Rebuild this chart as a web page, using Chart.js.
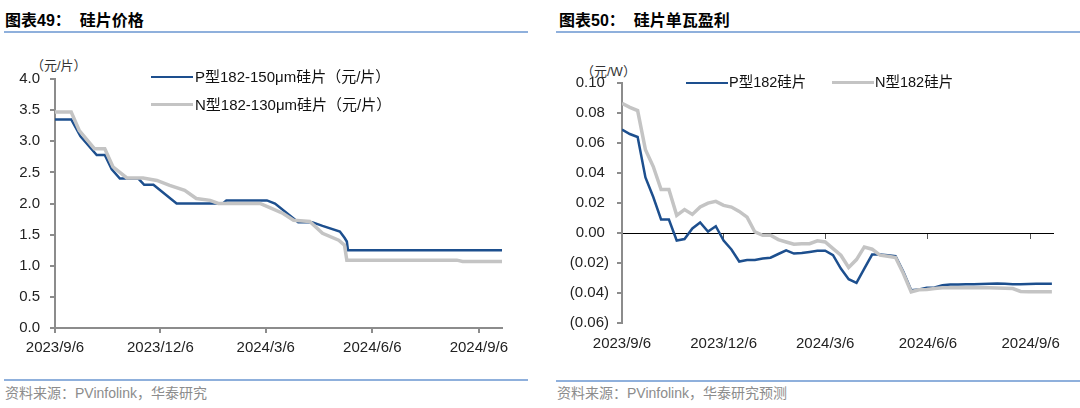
<!DOCTYPE html>
<html lang="zh">
<head>
  <meta charset="UTF-8" />
  <title>硅片价格 / 硅片单瓦盈利</title>
  <script src="https://cdn.jsdelivr.net/npm/chart.js"></script>
  <style>
    body { margin: 0; width: 1080px; height: 408px; position: relative; background: #fff;
           font-family: "Liberation Sans", "Noto Sans CJK SC", sans-serif; color: #000; overflow: hidden; }
    .abs { position: absolute; white-space: pre; line-height: 1; }
    .title { font-size: 16px; font-weight: bold; }
    .rule { position: absolute; height: 0; border-top: 2px solid #8fb0dc; }
    .unit { font-size: 13px; color: #333; }
    .src { font-size: 14px; color: #8c8c8c; }
    .leg { font-size: 15px; color: #111; }
    .swatch { position: absolute; height: 0; width: 42px; }
    .box { position: absolute; }
  </style>
</head>
<body>
  <!-- left: 硅片价格 -->
  <div class="abs title" style="left:5px; top:13px;">图表49：  硅片价格</div>
  <div class="rule" style="left:4px; width:524px; top:31px;"></div>
  <div class="abs unit" style="left:31px; top:59px;">（元/片）</div>
  <div class="box" style="left:0; top:60px; width:530px; height:310px;"><canvas id="priceChart"></canvas></div>
  <div class="swatch" style="left:151px; top:76px; border-top:2.5px solid #1d4f8e;"></div>
  <div class="abs leg" style="left:195px; top:69px;">P型182-150μm硅片（元/片）</div>
  <div class="swatch" style="left:151px; top:103px; border-top:3.5px solid #c4c4c4;"></div>
  <div class="abs leg" style="left:195px; top:97px;">N型182-130μm硅片（元/片）</div>
  <div class="rule" style="left:4px; width:524px; top:379px;"></div>
  <div class="abs src" style="left:5px; top:386px;">资料来源：PVinfolink，华泰研究</div>

  <!-- right: 硅片单瓦盈利 -->
  <div class="abs title" style="left:559px; top:13px;">图表50：  硅片单瓦盈利</div>
  <div class="rule" style="left:556px; width:524px; top:31px;"></div>
  <div class="abs unit" style="left:581px; top:65px;">（元/W）</div>
  <div class="box" style="left:540px; top:60px; width:540px; height:310px;"><canvas id="profitChart"></canvas></div>
  <div class="swatch" style="left:686px; top:82px; border-top:2.5px solid #1d4f8e;"></div>
  <div class="abs leg" style="left:729px; top:75px; font-size:14.5px;">P型182硅片</div>
  <div class="swatch" style="left:832px; top:81px; border-top:3.5px solid #c4c4c4;"></div>
  <div class="abs leg" style="left:875px; top:75px; font-size:14.5px;">N型182硅片</div>
  <div class="rule" style="left:556px; width:524px; top:380px;"></div>
  <div class="abs src" style="left:557px; top:386px;">资料来源：PVinfolink，华泰研究预测</div>

  <script>
    // x positions are days counted from 2023/9/6
    const tickDays = [0, 91, 182, 274, 366];
    const tickLabels = ['2023/9/6', '2023/12/6', '2024/3/6', '2024/6/6', '2024/9/6'];
    const lastDay = 386;

    // 硅片价格 (元/片)
    const pPriceDays = [0, 14, 22, 36, 43, 49, 56, 72, 77, 85, 105, 145, 148, 183, 190, 206, 210, 222, 231, 246, 250, 252, 253, 386];
    const pPrice = [3.35, 3.35, 3.08, 2.78, 2.78, 2.55, 2.40, 2.40, 2.30, 2.30, 2.00, 2.00, 2.05, 2.05, 2.00, 1.76, 1.70, 1.70, 1.64, 1.55, 1.45, 1.39, 1.25, 1.25];
    const nPriceDays = [0, 14, 21, 34, 43, 50, 62, 76, 88, 99, 112, 122, 134, 141, 177, 186, 197, 206, 220, 231, 245, 250, 252, 347, 352, 386];
    const nPrice = [3.47, 3.47, 3.17, 2.88, 2.88, 2.59, 2.41, 2.41, 2.37, 2.29, 2.21, 2.08, 2.05, 2.00, 2.00, 1.93, 1.84, 1.73, 1.71, 1.52, 1.41, 1.33, 1.09, 1.09, 1.07, 1.07];

    // 硅片单瓦盈利 (元/W), weekly
    const profitDays = [0, 7, 14, 21, 28, 35, 42, 49, 56, 63, 70, 77, 84, 91, 98, 105, 112, 119, 126, 133, 140, 147, 154, 161, 168, 175,
      182, 189, 196, 203, 210, 217, 224, 231, 238, 245, 252, 259, 266, 273, 280, 287, 294, 301, 308, 315, 322, 329, 336, 343, 350, 357, 364, 371, 378, 385];
    const pProfit = [0.069, 0.066, 0.064, 0.037, 0.024, 0.009, 0.009, -0.005, -0.004, 0.003, 0.007, 0.001, 0.0045, -0.005, -0.011, -0.019,
      -0.018, -0.018, -0.017, -0.0165, -0.014, -0.0115, -0.0137, -0.0133, -0.0126, -0.0118,
      -0.0118, -0.0148, -0.0237, -0.0308, -0.0332, -0.0237, -0.0144, -0.0144, -0.0148, -0.0155, -0.0259, -0.0381, -0.0376, -0.0365, -0.0363, -0.0348,
      -0.0344, -0.0343, -0.0342, -0.0341, -0.034, -0.0339, -0.0337, -0.0338, -0.0341, -0.0341, -0.034, -0.0339, -0.0339, -0.0339];
    const nProfit = [0.0864, 0.0838, 0.0816, 0.0555, 0.0443, 0.029, 0.029, 0.0118, 0.0156, 0.0124, 0.0173, 0.0199, 0.0211, 0.0184, 0.0173, 0.0144,
      0.0106, 0.0007, -0.0015, -0.0015, -0.0044, -0.006, -0.0075, -0.0071, -0.0071, -0.0052,
      -0.006, -0.0104, -0.0148, -0.023, -0.0177, -0.0093, -0.0108, -0.0148, -0.0155, -0.0164, -0.027, -0.0392, -0.0378, -0.0376, -0.037, -0.0365,
      -0.0365, -0.0365, -0.0365, -0.0365, -0.0365, -0.0365, -0.0366, -0.0368, -0.037, -0.039, -0.0392, -0.0392, -0.0392, -0.0392];

    const blue = '#1d4f8e';
    const grey = '#c4c4c4';
    const axisGrey = '#8c8c8c';
    const tickFont = { family: 'Liberation Sans', size: 15 };

    const pts = (xs, ys) => xs.map((x, i) => ({ x, y: ys[i] }));
    const setTicks = s => { s.ticks = tickDays.map(v => ({ value: v })); };
    const dayLabel = v => tickLabels[tickDays.indexOf(v)] ?? '';

    Chart.defaults.animation = false;
    Chart.defaults.color = '#222';

    new Chart(document.getElementById('priceChart'), {
      type: 'line',
      data: {
        datasets: [
          { data: pts(nPriceDays, nPrice), borderColor: grey, borderWidth: 3.5, pointRadius: 0, order: 0 },
          { data: pts(pPriceDays, pPrice), borderColor: blue, borderWidth: 2.5, pointRadius: 0, order: 1 }
        ]
      },
      options: {
        responsive: true, maintainAspectRatio: false,
        layout: { padding: { top: 18, right: 28, left: 0, bottom: 0 } },
        plugins: { legend: { display: false }, tooltip: { enabled: false } },
        scales: {
          x: {
            type: 'linear', min: 0, max: lastDay,
            afterBuildTicks: setTicks,
            afterFit: s => { s.height = 42; },
            border: { color: axisGrey, width: 2 },
            grid: { drawOnChartArea: false, tickLength: 5, color: axisGrey, lineWidth: 2 },
            ticks: { callback: dayLabel, font: tickFont, padding: 6, maxRotation: 0, autoSkip: false }
          },
          y: {
            min: 0, max: 4,
            afterFit: s => { s.width = 55; },
            border: { color: axisGrey, width: 2 },
            grid: { drawOnChartArea: false, tickLength: 5, color: axisGrey, lineWidth: 2 },
            ticks: { stepSize: 0.5, callback: v => v.toFixed(1), font: tickFont, padding: 10 }
          }
        }
      }
    });

    new Chart(document.getElementById('profitChart'), {
      type: 'line',
      data: {
        datasets: [
          { data: pts(profitDays, nProfit), borderColor: grey, borderWidth: 3.5, pointRadius: 0, order: 0 },
          { data: pts(profitDays, pProfit), borderColor: blue, borderWidth: 2.5, pointRadius: 0, order: 1 }
        ]
      },
      options: {
        responsive: true, maintainAspectRatio: false,
        layout: { padding: { top: 23, right: 27, left: 0, bottom: 0 } },
        plugins: { legend: { display: false }, tooltip: { enabled: false } },
        scales: {
          x: {
            type: 'linear', min: 0, max: lastDay,
            afterBuildTicks: setTicks,
            afterFit: s => { s.height = 47; },
            border: { display: false },
            grid: { display: false, drawTicks: false },
            ticks: { callback: dayLabel, font: tickFont, padding: 12, maxRotation: 0, autoSkip: false }
          },
          x2: {
            type: 'linear', min: 0, max: lastDay,
            position: { y: 0 },
            afterBuildTicks: setTicks,
            border: { color: '#000', width: 1 },
            grid: { drawOnChartArea: false, tickLength: 5, color: '#555', lineWidth: 1 },
            ticks: { display: false }
          },
          y: {
            min: -0.06, max: 0.10,
            afterFit: s => { s.width = 82; },
            border: { color: axisGrey, width: 2 },
            grid: { drawOnChartArea: false, tickLength: 5, color: axisGrey, lineWidth: 2 },
            ticks: {
              stepSize: 0.02, font: tickFont, padding: 8,
              callback: v => {
                const r = Math.round(v * 100) / 100;
                return r < 0 ? '(' + Math.abs(r).toFixed(2) + ')' : r.toFixed(2) + ' ';
              }
            }
          }
        }
      }
    });
  </script>
</body>
</html>
